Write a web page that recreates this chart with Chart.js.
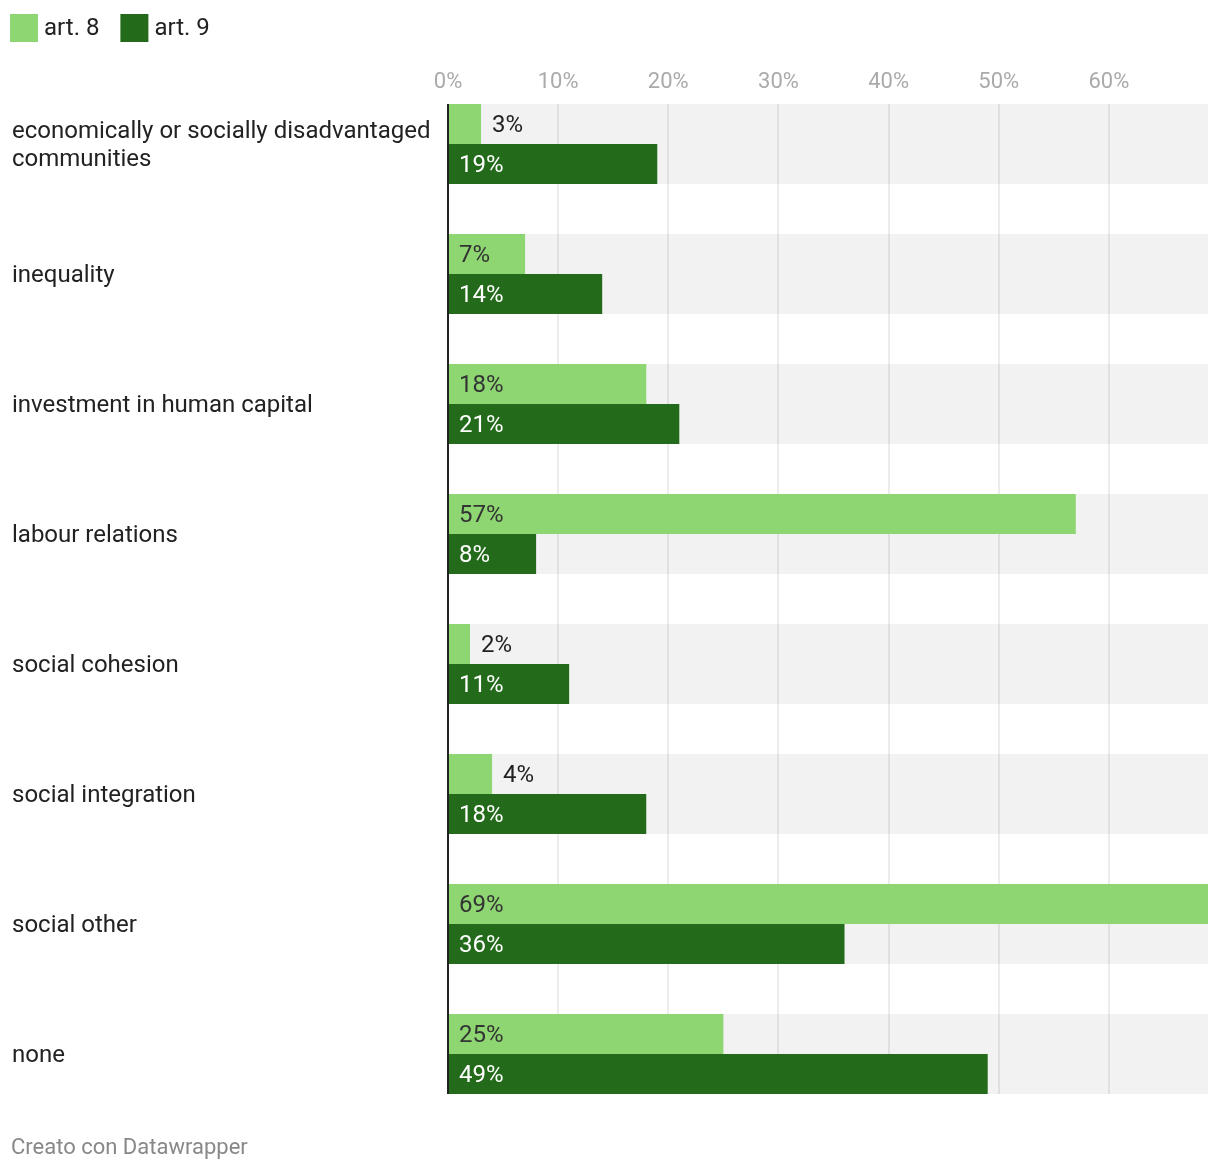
<!DOCTYPE html>
<html>
<head>
<meta charset="utf-8">
<script src="https://cdn.jsdelivr.net/npm/chart.js@4/dist/chart.umd.min.js"></script>
<style>
  body { margin: 0; background: #fff; }
  #wrap { width: 1220px; height: 1172px; position: relative; }
</style>
</head>
<body>
<div id="wrap"><canvas id="chart"></canvas></div>
<script>
const categories = [
    ["economically or socially disadvantaged", "communities"],
    "inequality",
    "investment in human capital",
    "labour relations",
    "social cohesion",
    "social integration",
    "social other",
    "none"
];
const art8 = [3, 7, 18, 57, 2, 4, 69, 25];
const art9 = [19, 14, 21, 8, 11, 18, 36, 49];
const tickValues = [0, 10, 20, 30, 40, 50, 60];
const seriesNames = ["art. 8", "art. 9"];
const seriesColors = ["#8dd672", "#236b1a"];
const labelColors = ["#333333", "#ffffff"]; // text colour when label sits inside the bar
const FONT = "Roboto";

const canvas = document.getElementById("chart");

// draws grey bands, gridlines, top tick labels, axis line, value labels, legend and footer
const decorPlugin = {
    id: "decor",
    beforeDatasetsDraw(chart) {
        const ctx = chart.ctx;
        const x = chart.scales.x;
        const y = chart.scales.y;
        const left = x.getPixelForValue(0);
        const right = chart.chartArea.right;
        const half = 40;
        ctx.save();
        ctx.fillStyle = "#f2f2f2";
        categories.forEach((c, i) => {
            const cy = y.getPixelForValue(i);
            ctx.fillRect(left, cy - half, right - left, half * 2);
        });
        const top = y.getPixelForValue(0) - half;
        const bottom = y.getPixelForValue(categories.length - 1) + half;
        ctx.strokeStyle = "rgba(0,0,0,0.1)";
        ctx.lineWidth = 1.5;
        tickValues.forEach(v => {
            if (v === 0) return;
            const px = Math.round(x.getPixelForValue(v));
            ctx.beginPath();
            ctx.moveTo(px, top);
            ctx.lineTo(px, bottom);
            ctx.stroke();
        });
        // tick labels on top
        ctx.fillStyle = "#aaaaaa";
        ctx.font = "22px " + FONT;
        ctx.textAlign = "center";
        ctx.textBaseline = "middle";
        tickValues.forEach(v => {
            ctx.fillText(v + "%", x.getPixelForValue(v), 82);
        });
        ctx.restore();
    },
    afterDatasetsDraw(chart) {
        const ctx = chart.ctx;
        const x = chart.scales.x;
        const y = chart.scales.y;
        ctx.save();
        // value labels
        ctx.font = "24px " + FONT;
        ctx.textBaseline = "middle";
        ctx.textAlign = "left";
        chart.data.datasets.forEach((ds, di) => {
            const meta = chart.getDatasetMeta(di);
            meta.data.forEach((bar, i) => {
                const txt = Math.round(ds.data[i]) + "%";
                const w = ctx.measureText(txt).width;
                const barW = bar.x - bar.base;
                if (w + 20 < barW) {
                    ctx.fillStyle = labelColors[di];
                    ctx.fillText(txt, bar.base + 11, bar.y + 2);
                } else {
                    ctx.fillStyle = "#222222";
                    ctx.fillText(txt, bar.x + 11, bar.y + 2);
                }
            });
        });
        // axis line
        const x0 = x.getPixelForValue(0);
        const top = y.getPixelForValue(0) - 40;
        const bottom = y.getPixelForValue(categories.length - 1) + 40;
        ctx.strokeStyle = "#222222";
        ctx.lineWidth = 2;
        ctx.beginPath();
        ctx.moveTo(x0, top);
        ctx.lineTo(x0, bottom);
        ctx.stroke();
        // legend
        let lx = 10;
        ctx.font = "24px " + FONT;
        seriesNames.forEach((name, i) => {
            ctx.fillStyle = seriesColors[i];
            ctx.fillRect(lx, 14, 28, 28);
            ctx.fillStyle = "#222222";
            ctx.fillText(name, lx + 34, 29);
            lx += 34 + ctx.measureText(name).width + 21;
        });
        // footer
        ctx.font = "22px " + FONT;
        ctx.fillStyle = "#888888";
        ctx.fillText("Creato con Datawrapper", 11, 1148);
        ctx.restore();
    }
};

new Chart(canvas, {
    type: "bar",
    data: {
        labels: categories,
        datasets: [
            { label: seriesNames[0], data: art8, backgroundColor: seriesColors[0] },
            { label: seriesNames[1], data: art9, backgroundColor: seriesColors[1] }
        ]
    },
    options: {
        indexAxis: "y",
        responsive: true,
        maintainAspectRatio: false,
        animation: false,
        categoryPercentage: 80 / 130,
        barPercentage: 1,
        layout: { padding: { top: 79, bottom: 53, left: 12, right: 12 } },
        plugins: {
            legend: { display: false },
            tooltip: { enabled: false }
        },
        scales: {
            x: { display: false, min: 0, max: 69 },
            y: {
                grid: { display: false },
                border: { display: false },
                ticks: {
                    color: "#222222",
                    font: { family: FONT, size: 24, lineHeight: 28 / 24 },
                    crossAlign: "far",
                    padding: 0,
                    labelOffset: 2,
                    autoSkip: false
                },
                afterFit: s => { s.width = 436; }
            }
        }
    },
    plugins: [decorPlugin]
});
</script>
</body>
</html>
